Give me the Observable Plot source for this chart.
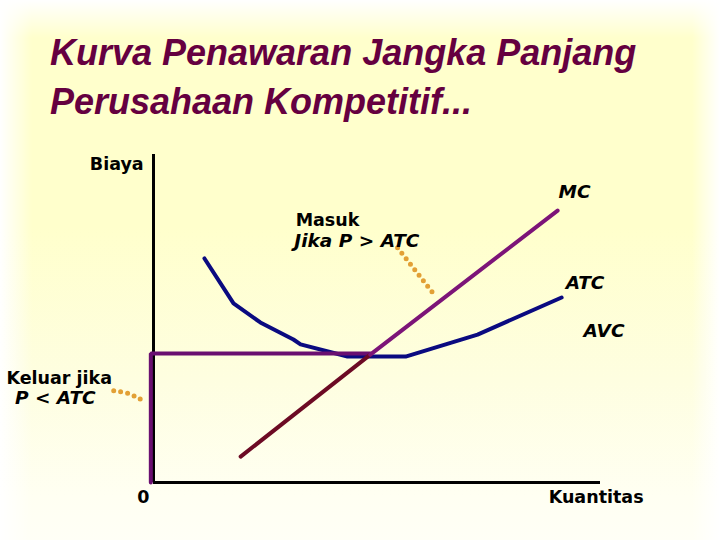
<!DOCTYPE html>
<html><head><meta charset="utf-8">
<script src="https://cdn.jsdelivr.net/npm/d3@7"></script>
<script src="https://cdn.jsdelivr.net/npm/@observablehq/plot@0.6"></script>
<style>
html,body{margin:0;padding:0;}
body{width:720px;height:540px;overflow:hidden;position:relative;
  background:
    linear-gradient(to right, #ffffff 0px, rgba(255,255,255,0) 32px),
    linear-gradient(to left, #ffffff 0px, rgba(255,255,255,0) 28px),
    linear-gradient(to bottom, #ffffff 0px, rgba(255,255,255,0) 38px),
    linear-gradient(to bottom, #ffffcc 0%, #ffffcc 42%, #fefee0 70%, #fffff2 92%, #fffff6 100%);}
#title{position:absolute;left:50px;top:28px;font:italic bold 36px "Liberation Sans",Arial,sans-serif;color:#650040;line-height:49px;white-space:nowrap;}
#chart{position:absolute;left:0;top:140px;}
#chart svg{background:transparent;overflow:visible;}
</style></head><body>
<div id="title">Kurva Penawaran Jangka Panjang<br>Perusahaan Kompetitif...</div>
<div id="chart"></div>
<script>
// Quantity (Kuantitas) and cost (Biaya) in arbitrary chart units
const atcQ = [11.4, 17.9, 23.9, 31.3, 32.9, 43.4, 56.4, 72.5, 91.3];
const atcC = [68.3, 54.6, 48.8, 43.6, 42.1, 38.4, 38.4, 45.1, 56.4];
const mcLowQ = [19.5, 48.5];
const mcLowC = [7.9, 39.0];
const mcUpQ = [48.5, 90.4];
const mcUpC = [39.0, 82.9];
const supplyQ = [-0.6, -0.6, 48.5];
const supplyC = [0, 39.3, 39.3];
const entryLeaderQ = [54.6, 62.6];
const entryLeaderC = [71.6, 57.6];
const exitLeaderQ = [-8.9, -5.6, -3.6, -1.8];
const exitLeaderC = [28.0, 27.1, 25.9, 24.7];
const labelText = ["Biaya", "MC", "Masuk", "Jika P > ATC", "ATC", "AVC", "Keluar jika", "P < ATC", "0", "Kuantitas"];
const labelQ = [-2.2, 90.6, 31.8, 31.5, 92.2, 96.2, -32.9, -31.0, -2.3, 88.4];
const labelC = [97.1, 88.6, 79.9, 73.5, 60.8, 46.3, 31.6, 25.6, -4.6, -4.6];
const labelAnchor = ["end", "start", "start", "start", "start", "start", "start", "start", "middle", "start"];
const labelItalic = [false, true, false, true, true, true, false, true, false, false];

const zip = (xs, ys) => xs.map((x, i) => ({q: x, c: ys[i]}));
const labels = labelText.map((t, i) => ({t, q: labelQ[i], c: labelC[i], a: labelAnchor[i], it: labelItalic[i]}));

const font = "'DejaVu Sans', Verdana, sans-serif";
const textOpts = (it, anchor) => ({
  x: "q", y: "c", text: "t", textAnchor: anchor, fontFamily: font, fontSize: it ? 18.5 : 17.5,
  fontWeight: "bold", fontStyle: it ? "italic" : "normal", fill: "black"
});

const chart = Plot.plot({
  width: 720, height: 400,
  marginLeft: 153, marginRight: 120, marginTop: 14, marginBottom: 58,
  x: {domain: [0, 100], axis: null},
  y: {domain: [0, 100], axis: null},
  style: {background: "transparent", overflow: "visible"},
  marks: [
    Plot.ruleX([0], {y1: 0, y2: 100, stroke: "black", strokeWidth: 3}),
    Plot.ruleY([0], {x1: 0, x2: 100, stroke: "black", strokeWidth: 3}),
    Plot.line(zip(atcQ, atcC), {x: "q", y: "c", stroke: "#0a0a80", strokeWidth: 4, strokeLinejoin: "round"}),
    Plot.line(zip(supplyQ, supplyC), {x: "q", y: "c", stroke: "#6a0f70", strokeWidth: 4, strokeLinejoin: "miter"}),
    Plot.line(zip(mcLowQ, mcLowC), {x: "q", y: "c", stroke: "#6c0a24", strokeWidth: 4}),
    Plot.line(zip(mcUpQ, mcUpC), {x: "q", y: "c", stroke: "#7c1478", strokeWidth: 4}),
    Plot.line(zip(entryLeaderQ, entryLeaderC), {x: "q", y: "c", stroke: "#e2a035", strokeWidth: 5, strokeDasharray: "0 7", strokeLinecap: "round"}),
    Plot.line(zip(exitLeaderQ, exitLeaderC), {x: "q", y: "c", curve: "catmull-rom", stroke: "#e2a035", strokeWidth: 5, strokeDasharray: "0 7", strokeLinecap: "round"}),
    Plot.text(labels.filter(d => !d.it && d.a === "start"), textOpts(false, "start")),
    Plot.text(labels.filter(d => d.it && d.a === "start"), textOpts(true, "start")),
    Plot.text(labels.filter(d => d.a === "end"), textOpts(false, "end")),
    Plot.text(labels.filter(d => d.a === "middle"), textOpts(false, "middle"))
  ]
});
document.getElementById("chart").appendChild(chart);
</script>
</body></html>
